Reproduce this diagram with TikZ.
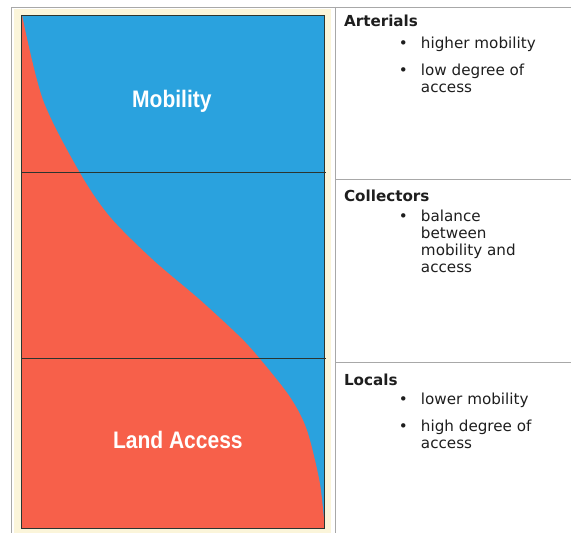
\documentclass[tikz,border=0pt]{standalone}
\usepackage{fontspec}
\newfontfamily\listfont{DejaVu Sans}
\newfontfamily\panelfont{Liberation Sans}
\begin{document}
\begin{tikzpicture}[x=0.025cm,y=-0.025cm,
  panellabel/.style={anchor=base,inner sep=0pt,text=white,xscale=0.88,
    font=\panelfont\bfseries\fontsize{17}{19}\selectfont},
  rowtitle/.style={anchor=base west,inner sep=0pt,text=ink,
    font=\listfont\bfseries\fontsize{10.8}{12.1}\selectfont},
  rowitem/.style={anchor=base west,inner sep=0pt,align=left,text=ink,
    font=\listfont\fontsize{10.8}{12.1}\selectfont}]
  \definecolor{cellrule}{HTML}{A8A8A8}
  \definecolor{ink}{HTML}{1E1E1E}
  \definecolor{mobblue}{HTML}{2AA2DE}
  \definecolor{accred}{HTML}{F7604A}
  \definecolor{cream}{HTML}{FBF5DA}
  \definecolor{rule}{HTML}{2B3530}
  % left panel
  \fill[cream] (14,9) rectangle (331,533);
  \fill[mobblue] (22,15) rectangle (325,529);
  \fill[accred] plot[smooth] coordinates {(22,15) (43,100) (80,173) (110,217)
    (153,260) (200,300) (240,337) (260,359) (290,397) (307,430) (320,483) (325,529)}
    -- (22,529) -- cycle;
  \foreach \yy in {173,359}{\draw[rule,line width=0.7pt] (22,\yy)--(326,\yy);}
  \draw[rule,line width=0.7pt] (22,15) rectangle (325,529);
  \node[panellabel] (mobility) at (172,108) {Mobility};
  \node[panellabel] (landaccess) at (178,449) {Land Access};
  % table lines
  \draw[cellrule,line width=0.6pt] (11,533) -- (11,7) -- (571,7);
  \draw[cellrule,line width=0.6pt] (336,7) -- (336,533);
  \foreach \yy in {180,363}{\draw[cellrule,line width=0.6pt] (336,\yy)--(571,\yy);}
  % right column
  \node[rowtitle] (arterials) at (344,27) {Arterials};
  \node[rowtitle] (collectors) at (344,202) {Collectors};
  \node[rowtitle] (locals) at (344,386) {Locals};
  % bullet baseline / last line baseline / text
  \foreach \yy/\ylast/\itemtext [count=\i] in {49/49/{higher mobility},76/93/{low degree of\\access},
      222/273/{balance\\between\\mobility and\\access},405/405/{lower mobility},
      432/449/{high degree of\\access}}{
    \node[rowitem] (dot\i) at (399,\yy) {\textbullet};
    \node[rowitem] (item\i) at (421,\ylast) {\itemtext};
  }
  \path[use as bounding box] (0,0) rectangle (571,533);
\end{tikzpicture}
\end{document}
